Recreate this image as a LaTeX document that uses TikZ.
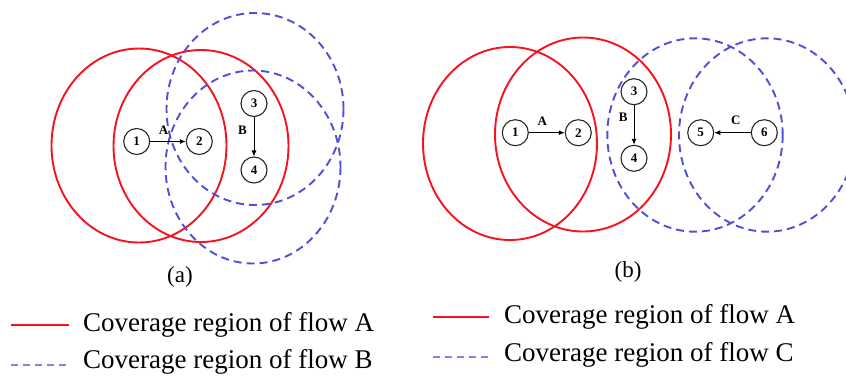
\documentclass[tikz,border=0pt]{standalone}
\usepackage{fontspec}
\setmainfont{Liberation Serif}
\usetikzlibrary{arrows.meta}
\definecolor{covred}{RGB}{245,20,30}
\definecolor{covblue}{RGB}{80,80,215}
\tikzset{
  redcov/.style={draw=covred, line width=1.9pt},
  bluecov/.style={draw=covblue, line width=1.9pt, dash pattern=on 8pt off 5pt},
  nd/.style={circle, draw=black!85, line width=1.1pt, minimum size=26pt, inner sep=0pt, font=\fontsize{13}{13}\selectfont\bfseries},
  flowlbl/.style={font=\fontsize{13}{13}\selectfont\bfseries, inner sep=0pt},
  flowarrow/.style={-{Latex[length=6pt,width=5pt]}, line width=0.9pt},
  subcap/.style={font=\fontsize{23}{23}\selectfont, inner sep=0pt},
  legtext/.style={font=\fontsize{27}{27}\selectfont, anchor=west, inner sep=0pt},
}
\begin{document}
\begin{tikzpicture}[x=1pt,y=-1pt]
\clip (0,0) rectangle (846,376);
% panel (a)
\draw[redcov] (139,145.5) ellipse [x radius=87.5, y radius=97];
\draw[redcov] (201,146) ellipse [x radius=87.5, y radius=96];
\draw[bluecov] (255,109) ellipse [x radius=88.5, y radius=96];
\draw[bluecov] (253,167) ellipse [x radius=87.5, y radius=96.5];
\node[nd] (a1) at (136.7,141.5) {1};
\node[nd] (a2) at (199.3,141.5) {2};
\node[nd] (a3) at (254,103.5) {3};
\node[nd] (a4) at (254,170) {4};
\draw[flowarrow] (a1) -- (a2);
\draw[flowarrow] (a3) -- (a4);
\node[flowlbl] (la) at (163.5,130) {A};
\node[flowlbl] (lb) at (242.5,130) {B};
\node[subcap] (capa) at (180,277) {(a)};
% panel (b)
\draw[redcov] (510,143.5) ellipse [x radius=87, y radius=96.5];
\draw[redcov] (583,134.5) ellipse [x radius=88, y radius=97];
\draw[bluecov] (695,135) ellipse [x radius=87.7, y radius=96.7];
\draw[bluecov] (767,135) ellipse [x radius=88, y radius=96.7];
\node[nd] (b1) at (515.3,132.7) {1};
\node[nd] (b2) at (578.3,132.7) {2};
\node[nd] (b3) at (634,91.7) {3};
\node[nd] (b4) at (634,158.3) {4};
\node[nd] (b5) at (700.7,132.7) {5};
\node[nd] (b6) at (764.3,132.7) {6};
\draw[flowarrow] (b1) -- (b2);
\draw[flowarrow] (b3) -- (b4);
\draw[flowarrow] (b6) -- (b5);
\node[flowlbl] (lba) at (542.3,121.5) {A};
\node[flowlbl] (lbb) at (623.3,117.3) {B};
\node[flowlbl] (lbc) at (735.7,120) {C};
\node[subcap] (capb) at (628,272) {(b)};
% legends
\coordinate (l1s) at (11,325); \coordinate (l1e) at (69,325);
\coordinate (l2s) at (11,365); \coordinate (l2e) at (67,365);
\draw[draw=covred, line width=1.3pt] (l1s) -- (l1e);
\draw[draw=covblue!70, line width=1.8pt, dash pattern=on 7pt off 5pt] (l2s) -- (l2e);
\node[legtext] (t1) at (83,325) {Coverage region of flow A};
\node[legtext] (t2) at (83,362) {Coverage region of flow B};
\coordinate (r1s) at (433,317); \coordinate (r1e) at (489,317);
\coordinate (r2s) at (433,357); \coordinate (r2e) at (491,357);
\draw[draw=covred, line width=1.3pt] (r1s) -- (r1e);
\draw[draw=covblue!70, line width=1.8pt, dash pattern=on 7pt off 5pt] (r2s) -- (r2e);
\node[legtext] (t3) at (504,317) {Coverage region of flow A};
\node[legtext] (t4) at (504,355) {Coverage region of flow C};
\end{tikzpicture}
\end{document}
